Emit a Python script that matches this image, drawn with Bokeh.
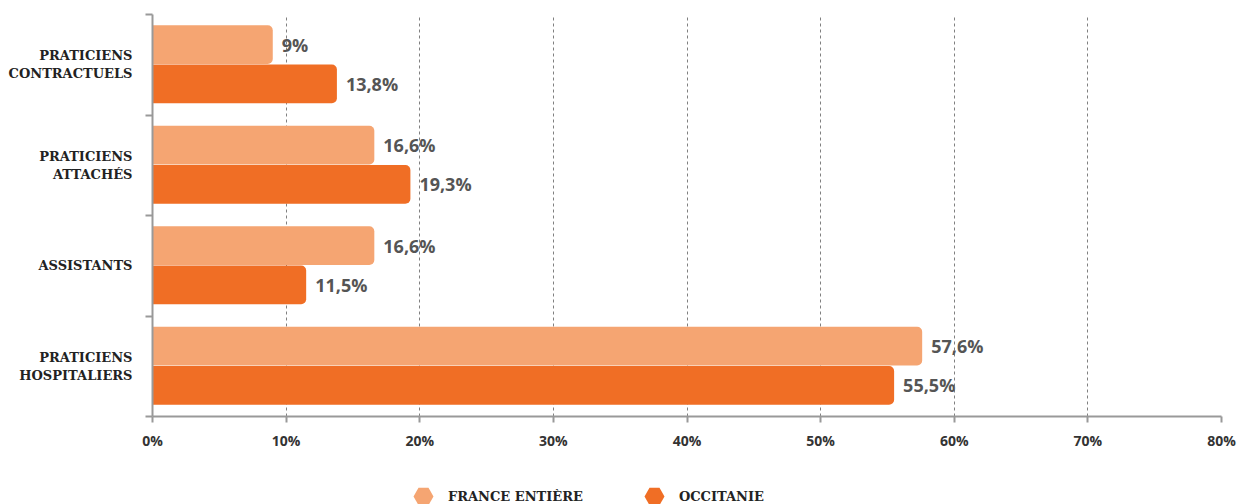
from bokeh.plotting import figure
from bokeh.models import (ColumnDataSource, Range1d, FixedTicker, Legend, LegendItem)
from bokeh.layouts import column
from bokeh.core.properties import value
from bokeh.embed import file_html
from bokeh.resources import INLINE

# Data (bottom to top)
categories = ["PRATICIENS\nHOSPITALIERS", "ASSISTANTS", "PRATICIENS\nATTACHÉS", "PRATICIENS\nCONTRACTUELS"]
france = [57.6, 16.6, 16.6, 9]
occitanie = [55.5, 11.5, 19.3, 13.8]
series_names = ["FRANCE ENTIÈRE", "OCCITANIE"]
x_ticks = [0, 10, 20, 30, 40, 50, 60, 70, 80]

LIGHT = "#F5A572"
DARK = "#F06E25"

def fmt(v):
    s = f"{v:g}".replace(".", ",")
    return s + "%"

centers = [i + 0.5 for i in range(len(categories))]
src_f = ColumnDataSource(dict(y=[c + 0.2 for c in centers], x=france, lab=[fmt(v) for v in france]))
src_o = ColumnDataSource(dict(y=[c - 0.19 for c in centers], x=occitanie, lab=[fmt(v) for v in occitanie]))

p = figure(width=1238, height=460, output_backend="svg", toolbar_location=None,
           x_range=Range1d(0, 80), y_range=Range1d(0, 4),
           min_border_left=152, min_border_right=17, min_border_top=14, min_border_bottom=44)
p.outline_line_color = None
p.background_fill_color = "white"

p.hbar(y="y", right="x", left=0, height=0.385, source=src_f, fill_color=LIGHT, line_color=None,
       border_radius=(0, 5, 5, 0))
p.hbar(y="y", right="x", left=0, height=0.385, source=src_o, fill_color=DARK, line_color=None,
       border_radius=(0, 5, 5, 0))

for src in (src_f, src_o):
    p.text(x="x", y="y", text="lab", source=src, x_offset=9, text_align="left", text_baseline="middle",
           text_font=value("Open Sans"), text_font_style="bold", text_font_size="18px", text_color="#555555")

# x axis
xa = p.xaxis[0]
xa.ticker = FixedTicker(ticks=x_ticks)
xa.major_label_overrides = {t: f"{t}%" for t in x_ticks}
xa.axis_line_color = "#999999"
xa.axis_line_width = 2
xa.major_tick_line_color = "#999999"
xa.major_tick_line_width = 2
xa.major_tick_out = 6
xa.major_tick_in = 0
xa.minor_tick_line_color = None
xa.major_label_text_font = "Open Sans"
xa.major_label_text_font_style = "bold"
xa.major_label_text_font_size = "14px"
xa.major_label_text_color = "#333333"
xa.major_label_standoff = 8

# y axis
ya = p.yaxis[0]
ya.ticker = FixedTicker(ticks=centers, minor_ticks=[0, 1, 2, 3, 4])
ya.major_label_overrides = {c: lab for c, lab in zip(centers, categories)}
ya.axis_line_color = "#999999"
ya.axis_line_width = 2
ya.major_tick_line_color = None
ya.major_tick_out = 0
ya.major_tick_in = 0
ya.minor_tick_line_color = "#999999"
ya.minor_tick_line_width = 2
ya.minor_tick_out = 7
ya.minor_tick_in = 0
ya.major_label_text_font = "DejaVu Serif"
ya.major_label_text_font_style = "bold"
ya.major_label_text_font_size = "13px"
ya.major_label_text_color = "#222222"
ya.major_label_standoff = 13

# grid
p.ygrid.grid_line_color = None
p.xgrid.ticker = FixedTicker(ticks=x_ticks[1:])
p.xgrid.grid_line_color = "#808080"
p.xgrid.grid_line_dash = "3 3"
p.xgrid.grid_line_width = 1

# legend strip below the chart, with hexagon markers
lg = figure(width=1238, height=44, output_backend="svg", toolbar_location=None,
            x_range=Range1d(0, 1), y_range=Range1d(0, 1), x_axis_type=None, y_axis_type=None,
            min_border=0, min_border_left=0, min_border_right=0, min_border_top=0, min_border_bottom=0)
lg.outline_line_color = None
lg.grid.visible = False
# single hidden point (outside the visible range) so the legend can draw the marker
r1 = lg.scatter(x=[-5], y=[-5], marker="hex", fill_color=LIGHT, line_color=None)
r2 = lg.scatter(x=[-5], y=[-5], marker="hex", fill_color=DARK, line_color=None)
legend = Legend(items=[LegendItem(label=series_names[0], renderers=[r1]),
                       LegendItem(label=series_names[1], renderers=[r2])],
                orientation="horizontal", location=(246, -17),
                glyph_width=50, glyph_height=50, label_standoff=0, spacing=46,
                padding=0, margin=0, border_line_color=None, background_fill_alpha=0,
                label_text_font="DejaVu Serif", label_text_font_style="bold",
                label_text_font_size="13px", label_text_color="#222222")
lg.add_layout(legend, "center")

layout = column(p, lg, spacing=0)
open("out.html", "w").write(file_html(layout, INLINE))
